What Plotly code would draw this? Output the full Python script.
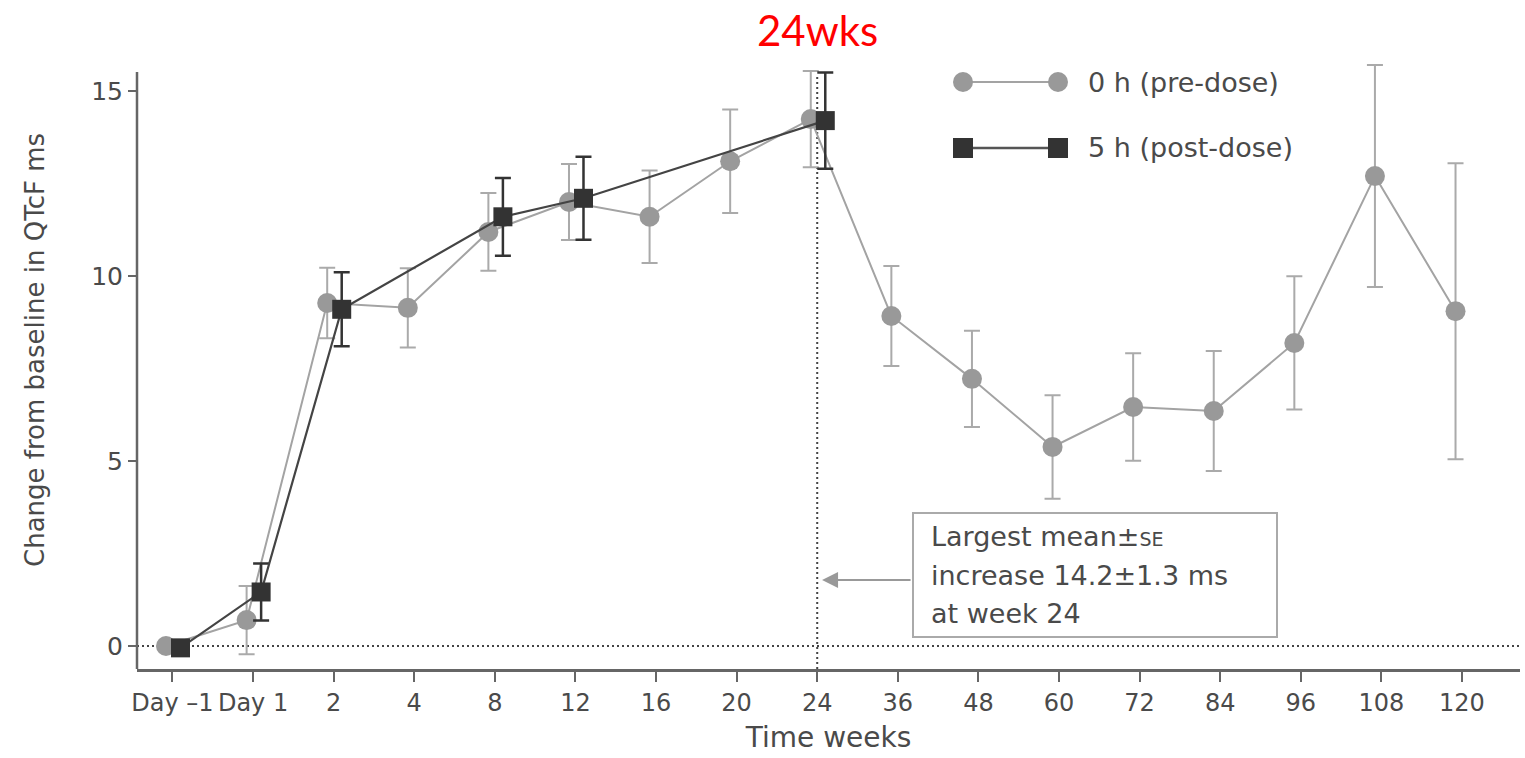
import plotly.graph_objects as go

# ---------------- data ----------------
categories = ["Day \u20131", "Day 1", "2", "4", "8", "12", "16", "20", "24",
              "36", "48", "60", "72", "84", "96", "108", "120"]

pre_mean = [0.0, 0.70, 9.27, 9.14, 11.19, 12.0, 11.6, 13.1, 14.24,
            8.92, 7.22, 5.38, 6.46, 6.35, 8.19, 12.7, 9.05]
pre_se = [0.0, 0.92, 0.95, 1.07, 1.05, 1.03, 1.25, 1.40, 1.30,
          1.35, 1.30, 1.40, 1.45, 1.62, 1.80, 3.0, 4.0]

post_categories = ["Day \u20131", "Day 1", "2", "8", "12", "24"]
post_mean = [-0.05, 1.46, 9.10, 11.60, 12.10, 14.20]
post_se = [0.0, 0.77, 1.0, 1.05, 1.12, 1.30]

y_ticks = [0, 5, 10, 15]

# ---------------- layout constants ----------------
W, H = 1525, 758
PL, PR, PT, PB = 137, 1520, 55, 669
X_RANGE = [-0.44, 16.72]
PX_PER_UNIT = 37.0
Y_ZERO_PX = 646
Y_RANGE = [-(PB - Y_ZERO_PX) / PX_PER_UNIT, (Y_ZERO_PX - PT) / PX_PER_UNIT]
Y_AXIS_TOP = (Y_ZERO_PX - 72) / PX_PER_UNIT
PRE_OFF, POST_OFF = -0.08, 0.10
TXT = "#4a4a4a"
FONT = "DejaVu Sans"
AXIS_COL = "#666666"

def px2x(px):
    return (px - PL) / (PR - PL)

def py2y(py):
    return (PB - py) / (PB - PT)

idx = {c: i for i, c in enumerate(categories)}
pre_x = [idx[c] + PRE_OFF for c in categories]
post_x = [idx[c] + POST_OFF for c in post_categories]

fig = go.Figure()

fig.add_trace(go.Scatter(
    x=pre_x, y=pre_mean, mode="lines+markers", name="0 h (pre-dose)",
    line=dict(color="#a3a3a3", width=2),
    marker=dict(symbol="circle", size=20, color="#999999", line=dict(width=0)),
    error_y=dict(type="data", array=pre_se, visible=True, color="#aaaaaa",
                 thickness=2, width=8),
    showlegend=False, cliponaxis=False,
))

fig.add_trace(go.Scatter(
    x=post_x, y=post_mean, mode="lines+markers", name="5 h (post-dose)",
    line=dict(color="#444444", width=2.2),
    marker=dict(symbol="square", size=19, color="#333333", line=dict(width=0)),
    error_y=dict(type="data", array=post_se, visible=True, color="#333333",
                 thickness=2.5, width=8),
    showlegend=False, cliponaxis=False,
))

shapes = []
# left axis line (drawn as a shape so it stops below the top of the plot area)
shapes.append(dict(type="line", xref="paper", yref="y", x0=0, x1=0,
                   y0=Y_RANGE[0], y1=Y_AXIS_TOP,
                   line=dict(color=AXIS_COL, width=2.5), layer="above"))
# horizontal dotted zero line
shapes.append(dict(type="line", xref="paper", yref="y", x0=0, x1=1, y0=0, y1=0,
                   line=dict(color="#444444", width=2, dash="2px,3px"), layer="below"))
# vertical dotted line at week 24
wk24 = idx["24"]
shapes.append(dict(type="line", xref="x", yref="y", x0=wk24, x1=wk24,
                   y0=Y_RANGE[0], y1=15.45,
                   line=dict(color="#444444", width=2, dash="2px,3px"), layer="below"))
# annotation box
shapes.append(dict(type="rect", xref="paper", yref="paper",
                   x0=px2x(913), x1=px2x(1277), y0=py2y(637), y1=py2y(513),
                   line=dict(color="#aaaaaa", width=2), fillcolor="white"))

# custom legend glyphs
def legend_row(py, symbol, mcolor, lcolor, lwidth):
    out = [dict(type="line", xref="paper", yref="paper",
                x0=px2x(963), x1=px2x(1058), y0=py2y(py), y1=py2y(py),
                line=dict(color=lcolor, width=lwidth))]
    for cx in (963, 1058):
        out.append(dict(type=symbol, xref="paper", yref="paper",
                        xsizemode="pixel", ysizemode="pixel",
                        xanchor=px2x(cx), yanchor=py2y(py),
                        x0=-10, x1=10, y0=-10, y1=10,
                        fillcolor=mcolor, line=dict(width=0)))
    return out

shapes += legend_row(82, "circle", "#999999", "#a3a3a3", 2)
shapes += legend_row(148, "rect", "#333333", "#555555", 2.5)

box_lines = ["Largest mean\u00b1<span style='font-size:19px'>SE</span>",
             "increase 14.2\u00b11.3 ms",
             "at week 24"]
box_line_py = [536, 575, 613]

annotations = [
    dict(text="24wks", xref="x", yref="paper", x=wk24, y=py2y(30),
         xanchor="center", yanchor="middle", showarrow=False,
         font=dict(family="Lato", size=42, color="#ff0000")),
    dict(text="0 h (pre-dose)", xref="paper", yref="paper", x=px2x(1086), y=py2y(82),
         xanchor="left", yanchor="middle", showarrow=False,
         font=dict(family=FONT, size=27, color=TXT)),
    dict(text="5 h (post-dose)", xref="paper", yref="paper", x=px2x(1086), y=py2y(148),
         xanchor="left", yanchor="middle", showarrow=False,
         font=dict(family=FONT, size=27, color=TXT)),
    dict(text="", xref="x", yref="paper", x=wk24 + 0.06, y=py2y(580),
         showarrow=True, ax=90, ay=0, arrowhead=2, arrowsize=1.6,
         arrowwidth=2, arrowcolor="#999999", standoff=0),
    dict(text="Change from baseline in QTcF ms", xref="paper", yref="paper",
         x=px2x(35), y=py2y(350), textangle=-90, xanchor="center", yanchor="middle",
         showarrow=False, font=dict(family=FONT, size=26, color=TXT)),
]
for t, py in zip(box_lines, box_line_py):
    annotations.append(dict(text=t, xref="paper", yref="paper", x=px2x(929), y=py2y(py),
                            xanchor="left", yanchor="middle", align="left",
                            showarrow=False, font=dict(family=FONT, size=27, color=TXT)))

fig.update_layout(
    width=W, height=H, autosize=False,
    margin=dict(l=PL, r=W - PR, t=PT, b=H - PB, pad=0),
    paper_bgcolor="white", plot_bgcolor="white",
    shapes=shapes, annotations=annotations,
    xaxis=dict(
        range=X_RANGE, tickmode="array", tickvals=list(range(len(categories))),
        ticktext=categories, tickangle=0, showgrid=False, zeroline=False,
        showline=True, linecolor=AXIS_COL, linewidth=2.5,
        ticks="outside", ticklen=10, tickwidth=2, tickcolor=AXIS_COL,
        tickfont=dict(family=FONT, size=24, color=TXT), automargin=False,
        title=dict(text="Time weeks", font=dict(family=FONT, size=28, color=TXT),
                   standoff=12),
    ),
    yaxis=dict(
        range=Y_RANGE, tickmode="array", tickvals=y_ticks,
        showgrid=False, zeroline=False, showline=False,
        ticks="outside", ticklen=8, tickwidth=2, tickcolor=AXIS_COL,
        tickfont=dict(family=FONT, size=25, color=TXT), automargin=False,
    ),
)

fig.write_html("out.html")
